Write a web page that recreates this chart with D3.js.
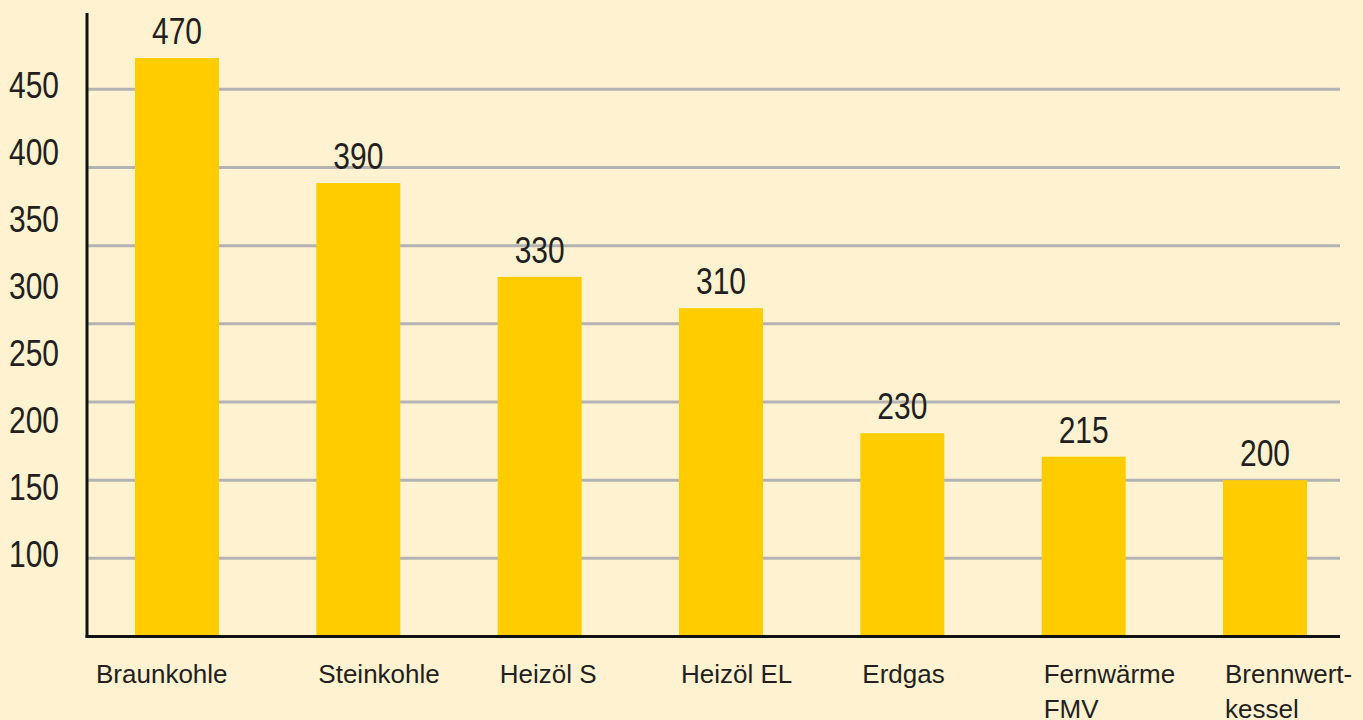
<!DOCTYPE html>
<html>
<head>
<meta charset="utf-8">
<script src="https://cdn.jsdelivr.net/npm/d3@7"></script>
<style>
  html, body { margin: 0; padding: 0; background: #fef2d0; }
  svg { display: block; }
</style>
</head>
<body>
<div id="chart"></div>
<script>
const categories = ["Braunkohle", "Steinkohle", "Heizöl S", "Heizöl EL", "Erdgas", "Fernwärme|FMV", "Brennwert-|kessel"];
const values = [470, 390, 330, 310, 230, 215, 200];
const gridValues = [150, 200, 250, 300, 350, 400, 450];
const tickLabels = [100, 150, 200, 250, 300, 350, 400, 450];

document.addEventListener("DOMContentLoaded", () => {
  const W = 1363, H = 720;
  const svg = d3.select("#chart").append("svg")
    .attr("width", W).attr("height", H);

  svg.append("rect").attr("width", W).attr("height", H).attr("fill", "#fef2d0");

  const axisX = 87, right = 1340;
  const y = d3.scaleLinear().domain([100, 450]).range([636.5, 89.3]);
  // the printed labels do not sit on the grid lines in the original
  const labelY = d3.scaleLinear().domain([100, 450]).range([567, 98]);

  const x = d3.scaleBand().domain(categories)
    .range([135, 1307]).paddingInner(0.537).paddingOuter(0);

  const narrow = 0.81; // condensed look for the numbers

  // grid lines
  svg.append("g").selectAll("line")
    .data(gridValues).enter().append("line")
    .attr("x1", axisX).attr("x2", right)
    .attr("y1", d => y(d)).attr("y2", d => y(d))
    .attr("stroke", "#b3b3b3").attr("stroke-width", 3);

  // bars
  svg.append("g").selectAll("rect")
    .data(values).enter().append("rect")
    .attr("x", (d, i) => x(categories[i]))
    .attr("width", x.bandwidth())
    .attr("y", d => y(d))
    .attr("height", d => y(100) - y(d))
    .attr("fill", "#ffcc00");

  // value labels
  svg.append("g").selectAll("text")
    .data(values).enter().append("text")
    .attr("transform", (d, i) =>
      `translate(${x(categories[i]) + x.bandwidth() / 2},${y(d) - 14}) scale(${narrow},1)`)
    .attr("text-anchor", "middle")
    .attr("font-family", "'Liberation Sans', Arial, sans-serif")
    .attr("font-size", 37)
    .attr("fill", "#231f20")
    .text(d => d);

  // axes
  svg.append("line")
    .attr("x1", axisX).attr("x2", axisX).attr("y1", 13).attr("y2", y(100) + 1)
    .attr("stroke", "#111").attr("stroke-width", 3);
  svg.append("line")
    .attr("x1", axisX - 1.5).attr("x2", right).attr("y1", y(100)).attr("y2", y(100))
    .attr("stroke", "#111").attr("stroke-width", 3);

  // y tick labels
  svg.append("g").selectAll("text")
    .data(tickLabels).enter().append("text")
    .attr("transform", d => `translate(9,${labelY(d)}) scale(${narrow},1)`)
    .attr("font-family", "'Liberation Sans', Arial, sans-serif")
    .attr("font-size", 37)
    .attr("fill", "#231f20")
    .text(d => d);

  // category labels
  const cat = svg.append("g").selectAll("text")
    .data(categories).enter().append("text")
    .attr("x", (d, i) => i === 0 ? x(d) - 39 : x(d) + 2)
    .attr("y", 683)
    .attr("font-family", "'Liberation Sans', Arial, sans-serif")
    .attr("font-size", 26)
    .attr("fill", "#231f20");
  cat.each(function (d) {
    const t = d3.select(this);
    d.split("|").forEach((line, j) => {
      t.append("tspan")
        .attr("x", t.attr("x"))
        .attr("dy", j === 0 ? 0 : 35)
        .text(line);
    });
  });
});
</script>
</body>
</html>
